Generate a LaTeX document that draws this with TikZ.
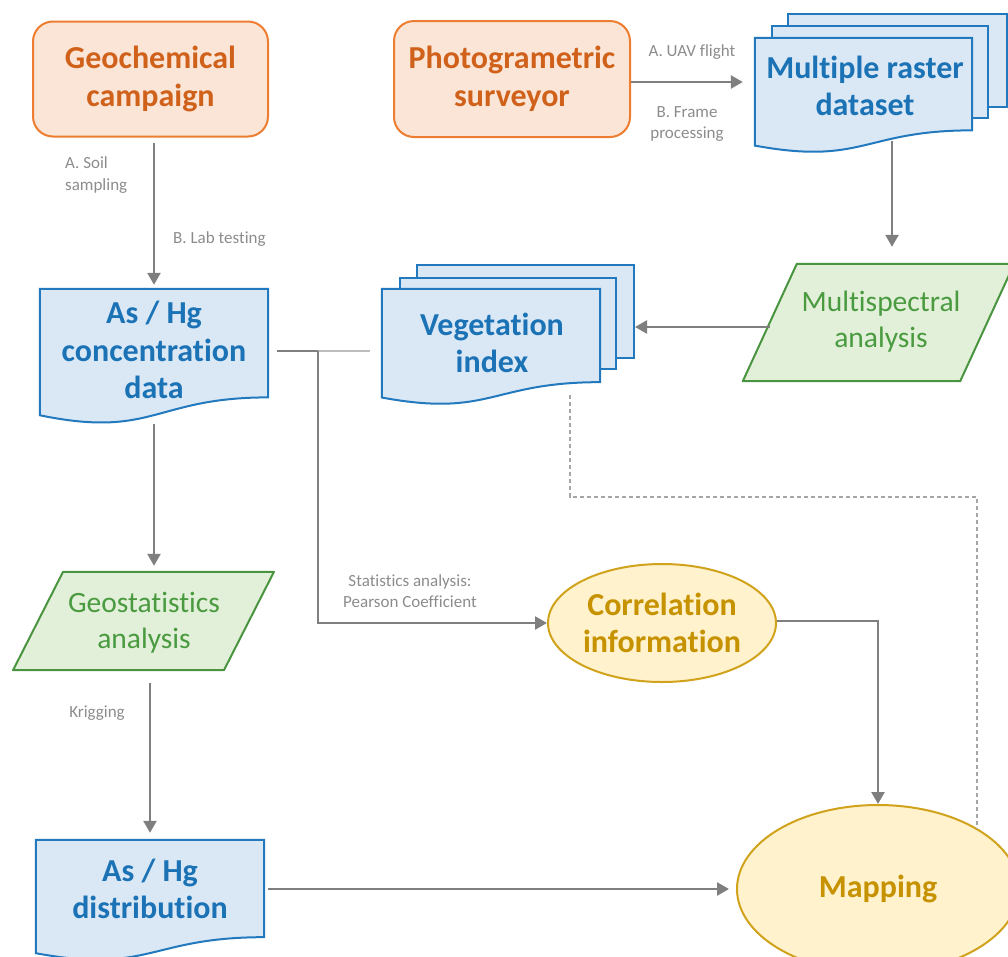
\documentclass[tikz,border=0pt]{standalone}
\usepackage{fontspec}
\setmainfont{Carlito}[Ligatures={NoCommon}]
\usetikzlibrary{arrows.meta,shapes.geometric,calc}
\definecolor{orgF}{HTML}{FBE5D6}
\definecolor{orgD}{HTML}{ED7D31}
\definecolor{orgT}{HTML}{D0611B}
\definecolor{bluF}{HTML}{DAE8F6}
\definecolor{bluD}{HTML}{2279BE}
\definecolor{bluT}{HTML}{1B72B5}
\definecolor{grnF}{HTML}{E2F0D9}
\definecolor{grnD}{HTML}{4A9440}
\definecolor{grnT}{HTML}{4A9A40}
\definecolor{gldF}{HTML}{FFF2CC}
\definecolor{gldD}{HTML}{D1A21B}
\definecolor{gldT}{HTML}{C69200}
\definecolor{arrC}{HTML}{7F7F7F}
\definecolor{lblC}{HTML}{8C8C8C}
\definecolor{dshC}{HTML}{A6A6A6}
\definecolor{litC}{HTML}{BDBDBD}
\newcommand\bigbf{\fontsize{32}{37.5}\selectfont\bfseries}
\newcommand\grnfont{\fontsize{29.5}{36}\selectfont}
\newcommand\lblfont{\fontsize{17}{21.5}\selectfont}
\newcommand\docshape[2]{\path[#2] let \p1=(#1.north west), \p2=(#1.south east) in
  (\x1,\y1) -- (\x2,\y1) -- (\x2,{\y1+0.802*(\y2-\y1)})
  .. controls ({(\x1+\x2)/2},{\y1+0.802*(\y2-\y1)}) and ({(\x1+\x2)/2},{\y1+1.1075*(\y2-\y1)}) ..
  (\x1,{\y1+0.934*(\y2-\y1)}) -- cycle;}
\newcommand\parashape[3]{\path[#3] ([xshift=#2]#1.north west) -- ([xshift=#2]#1.north east)
  -- ([xshift=-#2]#1.south east) -- ([xshift=-#2]#1.south west) -- cycle;}
\begin{document}
\begin{tikzpicture}[x=1pt,y=-1pt,
 arr/.style={draw=arrC, line width=2.5pt, -{Triangle[length=12pt,width=13pt]}},
 plainln/.style={draw=arrC, line width=2.5pt},
 lite/.style={draw=litC, line width=2pt},
 dashln/.style={draw=dshC, line width=1.6pt, dash pattern=on 4pt off 3pt},
 proc/.style={rectangle, rounded corners=20pt, draw=orgD, fill=orgF, line width=2pt, text=orgT, font=\bigbf, align=center, inner sep=0pt},
 holder/.style={rectangle, draw=none, inner sep=0pt},
 docfill/.style={draw=bluD, fill=bluF, line width=2pt},
 page/.style={rectangle, draw=bluD, fill=bluF, line width=2pt, inner sep=0pt},
 doctext/.style={text=bluT, font=\bigbf, align=center, inner sep=0pt},
 parafill/.style={draw=grnD, fill=grnF, line width=2pt, line join=round},
 paratext/.style={text=grnT, font=\grnfont, align=center, inner sep=0pt},
 oval/.style={ellipse, draw=gldD, fill=gldF, line width=2pt, text=gldT, font=\bigbf, align=center, inner sep=0pt},
 lbl/.style={text=lblC, font=\lblfont, inner sep=0pt},
]
\useasboundingbox (0,0) rectangle (1008,956);
\clip (0,0) rectangle (1008,956);

% top row
\node[proc, minimum width=235pt, minimum height=115pt] (geo) at (150.5,79) {Geochemical\\campaign};
\node[proc, minimum width=236pt, minimum height=116pt] (photo) at (512,79) {Photogrametric\\surveyor};

% raster stack
\node[page, minimum width=219pt, minimum height=93pt] (rasB) at (897.5,60.5) {};
\node[page, minimum width=216pt, minimum height=92pt] (rasM) at (880,72) {};
\node[holder, minimum width=217pt, minimum height=115pt] (raster) at (863.5,95.5) {};
\docshape{raster}{docfill}
\node[doctext] (rasterT) at (865,86) {Multiple raster\\dataset};

% vegetation stack
\node[page, minimum width=217pt, minimum height=93pt] (vegB) at (525.5,311.5) {};
\node[page, minimum width=216pt, minimum height=91pt] (vegM) at (508,323.5) {};
\node[holder, minimum width=218pt, minimum height=116pt] (veg) at (491,347) {};
\docshape{veg}{docfill}
\node[doctext] (vegT) at (492,343) {Vegetation\\index};

% concentration data
\node[holder, minimum width=228pt, minimum height=135pt] (conc) at (154,356.5) {};
\docshape{conc}{docfill}
\node[doctext] (concT) at (154,350) {As / Hg\\concentration\\data};

% multispectral
\node[holder, minimum width=217pt, minimum height=117pt] (multi) at (878.5,322.5) {};
\parashape{multi}{27pt}{parafill}
\node[paratext] (multiT) at (881,322) {Multispectral\\analysis};

% geostatistics
\node[holder, minimum width=210.5pt, minimum height=98pt] (geost) at (143.5,621) {};
\parashape{geost}{25pt}{parafill}
\node[paratext] (geostT) at (144,623) {Geostatistics\\analysis};

% distribution
\node[holder, minimum width=228pt, minimum height=121pt] (dist) at (150,900.5) {};
\docshape{dist}{docfill}
\node[doctext] (distT) at (150,889) {As / Hg\\distribution};

% ovals
\node[oval, minimum width=228pt, minimum height=118pt] (corr) at (662,623) {Correlation\\information};
\node[oval, minimum width=282pt, minimum height=168pt] (map) at (878,889) {Mapping};

% connectors
\draw[arr, shorten <=5pt, shorten >=4pt] (geo.south -| conc.north) -- (conc.north);
\draw[arr, shorten >=12pt] ([yshift=-3pt]photo.east) coordinate (pe) -- (pe -| raster.west);
\draw[arr, shorten >=17pt] ([xshift=28.5pt,yshift=12pt]raster.south) coordinate (rs) -- (rs |- multi.north);
\path ([yshift=-4.5pt]multi.west) coordinate (mw);
\draw[arr] (mw) -- (mw -| vegB.east);
\draw[arr, shorten >=6pt] (conc.south) -- (conc.south |- geost.north);
\draw[arr, shorten <=13pt, shorten >=7pt] (geost.south -| dist.north) -- (dist.north);
\draw[arr, shorten <=4pt, shorten >=7pt] (dist.east |- map.west) -- (map.west);
\coordinate (junc) at (318,351);
\draw[plainln, shorten <=9pt] (conc.east |- junc) -- (junc);
\draw[lite, shorten >=12pt] (junc) -- (junc -| veg.west);
\draw[arr] (junc) -- (junc |- corr.west) -- (corr.west);
\draw[arr] ([yshift=2pt]corr.east) -| (map.north);
\coordinate (dcorner) at (977,497);
\draw[dashln] ([xshift=79pt,yshift=10pt]veg.south) |- (dcorner) -- (dcorner |- map.31.6);

% labels
\node[lbl, align=left, anchor=west] (lsoil) at (65,175) {A. Soil\\sampling};
\node[lbl, anchor=west] (llab) at (173,239) {B. Lab testing};
\node[lbl] (luav) at (692,52) {A. UAV flight};
\node[lbl, align=center] (lframe) at (687,124) {B. Frame\\processing};
\node[lbl, align=center] (lstat) at (410,591) {Statistics analysis:\\Pearson Coefficient};
\node[lbl] (lkrig) at (97,713) {Krigging};
\end{tikzpicture}
\end{document}
